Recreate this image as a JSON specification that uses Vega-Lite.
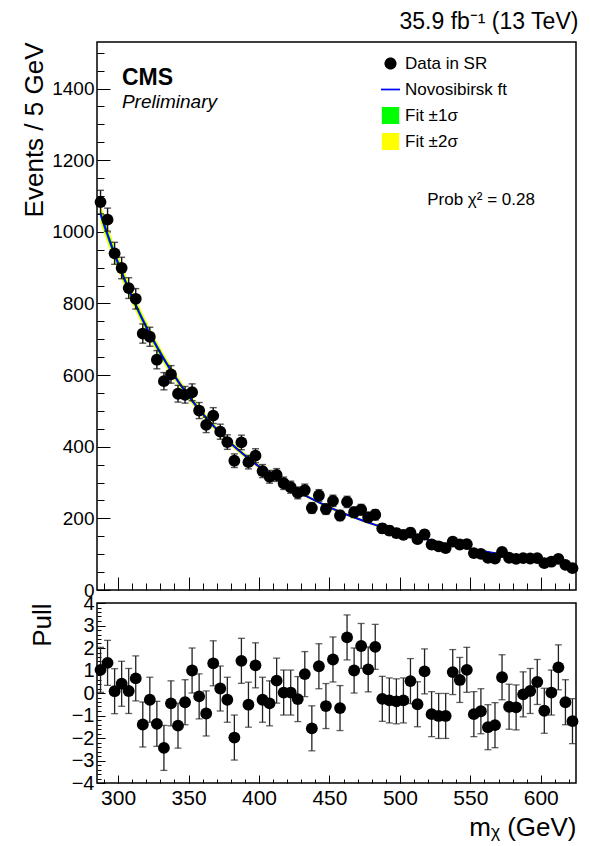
{
"$schema": "https://vega.github.io/schema/vega-lite/v6.json",
"padding": {"left": 20, "top": 10, "right": 14, "bottom": 0},
"bounds": "flush",
"spacing": 13,
"config": {
  "font": "Liberation Sans",
  "view": {"stroke": "#000", "strokeWidth": 1.5},
  "title": {"font": "Liberation Sans", "fontWeight": "normal", "color": "#000"},
  "axis": {"domain": false, "grid": false, "labelFont": "Liberation Sans", "titleFont": "Liberation Sans", "labelColor": "#000", "tickColor": "#000", "titleColor": "#000", "titleFontWeight": "normal", "labelFontSize": 20, "tickWidth": 1, "labelFlush": false, "labelOverlap": false},
  "legend": {"labelFont": "Liberation Sans", "labelFontSize": 17, "labelColor": "#000"}
},
"datasets": {
  "bins": [
    {"m":287.5,"n":1083,"e":32.9,"fit":1050,"s1":13,"s2":26,"p":1.03,"pe":1},
    {"m":292.5,"n":1034,"e":32.2,"fit":991.9,"s1":12.3,"s2":24.5,"p":1.34,"pe":1},
    {"m":297.5,"n":940,"e":30.7,"fit":937.7,"s1":11.5,"s2":23,"p":0.08,"pe":1},
    {"m":302.5,"n":899,"e":30.0,"fit":887.0,"s1":10.8,"s2":21.5,"p":0.41,"pe":1},
    {"m":307.5,"n":843,"e":29.0,"fit":839.7,"s1":10,"s2":20,"p":0.09,"pe":1},
    {"m":312.5,"n":813,"e":28.5,"fit":795.4,"s1":9.4,"s2":18.7,"p":0.65,"pe":1},
    {"m":317.5,"n":716,"e":26.8,"fit":754.0,"s1":8.7,"s2":17.4,"p":-1.40,"pe":1},
    {"m":322.5,"n":707,"e":26.6,"fit":715.3,"s1":8.1,"s2":16.2,"p":-0.30,"pe":1},
    {"m":327.5,"n":643,"e":25.4,"fit":679.0,"s1":7.6,"s2":15.1,"p":-1.37,"pe":1},
    {"m":332.5,"n":583,"e":24.1,"fit":645.0,"s1":7.1,"s2":14.1,"p":-2.44,"pe":1},
    {"m":337.5,"n":602,"e":24.5,"fit":613.1,"s1":6.6,"s2":13.2,"p":-0.46,"pe":1},
    {"m":342.5,"n":548,"e":23.4,"fit":583.2,"s1":6.2,"s2":12.3,"p":-1.45,"pe":1},
    {"m":347.5,"n":545,"e":23.3,"fit":555.1,"s1":5.8,"s2":11.5,"p":-0.41,"pe":1},
    {"m":352.5,"n":552,"e":23.5,"fit":528.8,"s1":5.4,"s2":10.8,"p":1.00,"pe":1},
    {"m":357.5,"n":501,"e":22.4,"fit":504.1,"s1":5.1,"s2":10.1,"p":-0.15,"pe":1},
    {"m":362.5,"n":461,"e":21.5,"fit":480.8,"s1":4.8,"s2":9.5,"p":-0.91,"pe":1},
    {"m":367.5,"n":487,"e":22.1,"fit":458.9,"s1":4.5,"s2":8.9,"p":1.32,"pe":1},
    {"m":372.5,"n":442,"e":21.0,"fit":438.3,"s1":4.2,"s2":8.4,"p":0.20,"pe":1},
    {"m":377.5,"n":413,"e":20.3,"fit":419.0,"s1":4.0,"s2":7.9,"p":-0.30,"pe":1},
    {"m":382.5,"n":361,"e":19.0,"fit":400.8,"s1":3.8,"s2":7.5,"p":-1.98,"pe":1},
    {"m":387.5,"n":412,"e":20.3,"fit":383.6,"s1":3.6,"s2":7.1,"p":1.43,"pe":1},
    {"m":392.5,"n":357,"e":18.9,"fit":367.4,"s1":3.4,"s2":6.7,"p":-0.52,"pe":1},
    {"m":397.5,"n":375,"e":19.4,"fit":352.1,"s1":3.2,"s2":6.4,"p":1.23,"pe":1},
    {"m":402.5,"n":332,"e":18.2,"fit":337.6,"s1":3.1,"s2":6.1,"p":-0.30,"pe":1},
    {"m":407.5,"n":316,"e":17.8,"fit":323.8,"s1":2.9,"s2":5.8,"p":-0.46,"pe":1},
    {"m":412.5,"n":321,"e":17.9,"fit":310.7,"s1":2.8,"s2":5.6,"p":0.55,"pe":1},
    {"m":417.5,"n":298,"e":17.3,"fit":298.3,"s1":2.7,"s2":5.4,"p":0.02,"pe":1},
    {"m":422.5,"n":287,"e":16.9,"fit":286.5,"s1":2.6,"s2":5.2,"p":0.02,"pe":1},
    {"m":427.5,"n":271,"e":16.5,"fit":275.2,"s1":2.5,"s2":5.0,"p":-0.27,"pe":1},
    {"m":432.5,"n":279,"e":16.7,"fit":264.5,"s1":2.4,"s2":4.8,"p":0.84,"pe":1},
    {"m":437.5,"n":229,"e":15.1,"fit":254.3,"s1":2.4,"s2":4.7,"p":-1.57,"pe":1},
    {"m":442.5,"n":264,"e":16.2,"fit":244.6,"s1":2.3,"s2":4.5,"p":1.19,"pe":1},
    {"m":447.5,"n":226,"e":15.0,"fit":235.4,"s1":2.2,"s2":4.4,"p":-0.58,"pe":1},
    {"m":452.5,"n":249,"e":15.8,"fit":226.6,"s1":2.2,"s2":4.3,"p":1.49,"pe":1},
    {"m":457.5,"n":208,"e":14.4,"fit":218.2,"s1":2.1,"s2":4.2,"p":-0.67,"pe":1},
    {"m":462.5,"n":246,"e":15.7,"fit":210.2,"s1":2.1,"s2":4.1,"p":2.47,"pe":1},
    {"m":467.5,"n":217,"e":14.7,"fit":202.6,"s1":2.0,"s2":4.0,"p":1.00,"pe":1},
    {"m":472.5,"n":224,"e":15.0,"fit":195.4,"s1":2.0,"s2":3.9,"p":2.09,"pe":1},
    {"m":477.5,"n":203,"e":14.2,"fit":188.5,"s1":1.9,"s2":3.8,"p":1.05,"pe":1},
    {"m":482.5,"n":210,"e":14.5,"fit":181.9,"s1":1.9,"s2":3.7,"p":2.05,"pe":1},
    {"m":487.5,"n":172,"e":13.1,"fit":175.6,"s1":1.8,"s2":3.6,"p":-0.26,"pe":1},
    {"m":492.5,"n":166,"e":12.9,"fit":169.6,"s1":1.8,"s2":3.6,"p":-0.33,"pe":1},
    {"m":497.5,"n":159,"e":12.6,"fit":163.8,"s1":1.8,"s2":3.5,"p":-0.37,"pe":1},
    {"m":502.5,"n":154,"e":12.4,"fit":158.3,"s1":1.8,"s2":3.5,"p":-0.33,"pe":1},
    {"m":507.5,"n":160,"e":12.6,"fit":153.0,"s1":1.7,"s2":3.4,"p":0.53,"pe":1},
    {"m":512.5,"n":142,"e":11.9,"fit":147.9,"s1":1.7,"s2":3.4,"p":-0.50,"pe":1},
    {"m":517.5,"n":155,"e":12.4,"fit":142.9,"s1":1.7,"s2":3.3,"p":0.96,"pe":1},
    {"m":522.5,"n":127,"e":11.3,"fit":138.1,"s1":1.7,"s2":3.3,"p":-0.94,"pe":1},
    {"m":527.5,"n":122,"e":11.0,"fit":133.5,"s1":1.7,"s2":3.3,"p":-1.02,"pe":1},
    {"m":532.5,"n":117,"e":10.8,"fit":129.1,"s1":1.6,"s2":3.2,"p":-1.02,"pe":1},
    {"m":537.5,"n":135,"e":11.6,"fit":124.8,"s1":1.6,"s2":3.2,"p":0.93,"pe":1},
    {"m":542.5,"n":127,"e":11.3,"fit":120.7,"s1":1.6,"s2":3.2,"p":0.58,"pe":1},
    {"m":547.5,"n":128,"e":11.3,"fit":116.8,"s1":1.6,"s2":3.1,"p":1.03,"pe":1},
    {"m":552.5,"n":103,"e":10.1,"fit":113.0,"s1":1.6,"s2":3.1,"p":-0.94,"pe":1},
    {"m":557.5,"n":101,"e":10.0,"fit":109.3,"s1":1.6,"s2":3.1,"p":-0.81,"pe":1},
    {"m":562.5,"n":90,"e":9.5,"fit":105.8,"s1":1.6,"s2":3.1,"p":-1.52,"pe":1},
    {"m":567.5,"n":88,"e":9.4,"fit":102.4,"s1":1.5,"s2":3.0,"p":-1.43,"pe":1},
    {"m":572.5,"n":106,"e":10.3,"fit":99.1,"s1":1.5,"s2":3.0,"p":0.70,"pe":1},
    {"m":577.5,"n":90,"e":9.5,"fit":95.9,"s1":1.5,"s2":3.0,"p":-0.61,"pe":1},
    {"m":582.5,"n":87,"e":9.3,"fit":92.9,"s1":1.5,"s2":3.0,"p":-0.64,"pe":1},
    {"m":587.5,"n":89,"e":9.4,"fit":90.0,"s1":1.5,"s2":3.0,"p":-0.06,"pe":1},
    {"m":592.5,"n":88,"e":9.4,"fit":87.2,"s1":1.5,"s2":3.0,"p":0.09,"pe":1},
    {"m":597.5,"n":89,"e":9.4,"fit":84.4,"s1":1.5,"s2":3.0,"p":0.49,"pe":1},
    {"m":602.5,"n":75,"e":8.7,"fit":81.7,"s1":1.5,"s2":3.0,"p":-0.79,"pe":1},
    {"m":607.5,"n":79,"e":8.9,"fit":79.2,"s1":1.5,"s2":3.0,"p":0.02,"pe":1},
    {"m":612.5,"n":87,"e":9.3,"fit":76.7,"s1":1.5,"s2":3.0,"p":1.14,"pe":1},
    {"m":617.5,"n":70,"e":8.4,"fit":74.3,"s1":1.5,"s2":3.0,"p":-0.41,"pe":1},
    {"m":622.5,"n":61,"e":7.8,"fit":71.9,"s1":1.5,"s2":3.0,"p":-1.25,"pe":1}
  ],
  "keys": [
    {"k":"Data in SR","m":null,"n":null},
    {"k":"Novosibirsk ft","m":null,"n":null},
    {"k":"Fit ±1σ","m":null,"n":null},
    {"k":"Fit ±2σ","m":null,"n":null}
  ]
},
"vconcat": [
  {
    "width": 479,
    "height": 548,
    "title": {"text": "35.9 fb⁻¹ (13 TeV)", "anchor": "end", "fontSize": 23, "fontWeight": "normal", "offset": 8},
    "layer": [
      {
        "data": {"name": "bins"},
        "mark": {"type": "errorband", "color": "#ffff00", "opacity": 1, "interpolate": "monotone"},
        "encoding": {
          "x": {"field": "m", "type": "quantitative", "scale": {"domain": [285, 625], "nice": false, "zero": false}, "axis": null},
          "y": {"field": "fit", "type": "quantitative", "scale": {"domain": [0, 1530], "nice": false}, "axis": null},
          "yError": {"field": "s2"}
        }
      },
      {
        "data": {"name": "bins"},
        "mark": {"type": "errorband", "color": "#00ff00", "opacity": 1, "interpolate": "monotone"},
        "encoding": {
          "x": {"field": "m", "type": "quantitative", "axis": null},
          "y": {"field": "fit", "type": "quantitative", "axis": null},
          "yError": {"field": "s1"}
        }
      },
      {
        "data": {"name": "bins"},
        "mark": {"type": "line", "color": "#0000ff", "strokeWidth": 2, "interpolate": "monotone"},
        "encoding": {
          "x": {"field": "m", "type": "quantitative", "axis": {"orient": "bottom", "values": [290,300,310,320,330,340,350,360,370,380,390,400,410,420,430,440,450,460,470,480,490,500,510,520,530,540,550,560,570,580,590,600,610,620], "labels": false, "tickSize": -7, "title": null}},
          "y": {"field": "fit", "type": "quantitative", "axis": {"orient": "left", "values": [0,50,100,150,200,250,300,350,400,450,500,550,600,650,700,750,800,850,900,950,1000,1050,1100,1150,1200,1250,1300,1350,1400,1450,1500], "labels": false, "tickSize": -7, "title": null}}
        }
      },
      {
        "data": {"name": "bins"},
        "mark": {"type": "errorbar", "color": "#111", "thickness": 1.4, "ticks": {"size": 7}},
        "encoding": {
          "x": {"field": "m", "type": "quantitative", "axis": null},
          "y": {"field": "n", "type": "quantitative", "axis": null},
          "yError": {"field": "e"}
        }
      },
      {
        "data": {"name": "bins"},
        "mark": {"type": "point", "filled": true, "size": 140, "color": "#000", "opacity": 1},
        "encoding": {
          "x": {"field": "m", "type": "quantitative", "axis": {"orient": "bottom", "values": [300,350,400,450,500,550,600], "labels": false, "tickSize": -13, "title": null}},
          "y": {"field": "n", "type": "quantitative", "axis": {"orient": "left", "values": [0,200,400,600,800,1000,1200,1400], "format": "d", "labelFontSize": 19, "tickSize": -13, "labelPadding": 16, "title": "Events / 5 GeV", "titleAnchor": "end", "titleFontSize": 26, "titlePadding": 4}}
        }
      },
      {
        "data": {"values": [{"m": 302.7, "n": 1410, "t": "CMS"}]},
        "mark": {"type": "text", "align": "left", "baseline": "alphabetic", "fontSize": 23, "fontWeight": "bold", "font": "Liberation Sans", "color": "#000"},
        "encoding": {"x": {"field": "m", "type": "quantitative", "axis": null}, "y": {"field": "n", "type": "quantitative", "axis": null}, "text": {"field": "t"}}
      },
      {
        "data": {"values": [{"m": 302.7, "n": 1346, "t": "Preliminary"}]},
        "mark": {"type": "text", "align": "left", "baseline": "alphabetic", "fontSize": 19, "fontStyle": "italic", "font": "Liberation Sans", "color": "#000"},
        "encoding": {"x": {"field": "m", "type": "quantitative", "axis": null}, "y": {"field": "n", "type": "quantitative", "axis": null}, "text": {"field": "t"}}
      },
      {
        "data": {"values": [{"m": 557.6, "n": 1075, "t": "Prob χ² = 0.28"}]},
        "mark": {"type": "text", "align": "center", "baseline": "alphabetic", "fontSize": 17, "font": "Liberation Sans", "color": "#000"},
        "encoding": {"x": {"field": "m", "type": "quantitative", "axis": null}, "y": {"field": "n", "type": "quantitative", "axis": null}, "text": {"field": "t"}}
      },
      {
        "data": {"name": "keys"},
        "mark": {"type": "point", "filled": true, "opacity": 1, "size": 300},
        "encoding": {
          "x": {"field": "m", "type": "quantitative", "axis": null},
          "y": {"field": "n", "type": "quantitative", "axis": null},
          "color": {"field": "k", "type": "nominal", "scale": {"domain": ["Data in SR", "Novosibirsk ft", "Fit ±1σ", "Fit ±2σ"], "range": ["#000000", "#0000ff", "#00ff00", "#ffff00"]}, "legend": {"orient": "none", "legendX": 284, "legendY": 13, "title": null, "rowPadding": 8, "clipHeight": 17, "labelOffset": 5, "symbolOpacity": 1, "symbolSize": 300}},
          "shape": {"field": "k", "type": "nominal", "scale": {"domain": ["Data in SR", "Novosibirsk ft", "Fit ±1σ", "Fit ±2σ"], "range": ["M0,-0.7A0.7,0.7 0 1,1 0,0.7A0.7,0.7 0 1,1 0,-0.7Z", "M-1.1,-0.1H1.1V0.1H-1.1Z", "square", "square"]}, "legend": {"orient": "none", "legendX": 284, "legendY": 13, "title": null, "rowPadding": 8, "clipHeight": 17, "labelOffset": 5, "symbolOpacity": 1, "symbolSize": 300}}
        }
      }
    ],
    "resolve": {"axis": {"x": "independent", "y": "independent"}}
  },
  {
    "width": 479,
    "height": 180,
    "layer": [
      {
        "mark": {"type": "rule", "color": "#555", "strokeWidth": 1.5},
        "encoding": {
          "y": {"datum": 0, "type": "quantitative", "scale": {"domain": [-4, 4], "nice": false}, "axis": null}
        }
      },
      {
        "data": {"name": "bins"},
        "mark": {"type": "errorbar", "color": "#222", "thickness": 1.3, "ticks": {"size": 7}},
        "encoding": {
          "x": {"field": "m", "type": "quantitative", "scale": {"domain": [285, 625], "nice": false, "zero": false}, "axis": {"orient": "bottom", "values": [290,300,310,320,330,340,350,360,370,380,390,400,410,420,430,440,450,460,470,480,490,500,510,520,530,540,550,560,570,580,590,600,610,620], "labels": false, "tickSize": -4, "title": null}},
          "y": {"field": "p", "type": "quantitative", "scale": {"domain": [-4, 4], "nice": false}, "axis": {"orient": "left", "values": [-4,-3.8,-3.6,-3.4,-3.2,-3,-2.8,-2.6,-2.4,-2.2,-2,-1.8,-1.6,-1.4,-1.2,-1,-0.8,-0.6,-0.4,-0.2,0,0.2,0.4,0.6,0.8,1,1.2,1.4,1.6,1.8,2,2.2,2.4,2.6,2.8,3,3.2,3.4,3.6,3.8,4], "labels": false, "tickSize": -4, "title": null}},
          "yError": {"field": "pe"}
        }
      },
      {
        "data": {"name": "bins"},
        "mark": {"type": "point", "filled": true, "size": 140, "color": "#000", "opacity": 1},
        "encoding": {
          "x": {"field": "m", "type": "quantitative", "axis": {"orient": "bottom", "values": [300,350,400,450,500,550,600], "labelFontSize": 21, "tickSize": -8, "labelPadding": 12, "title": "mᵪ (GeV)", "titleAnchor": "end", "titleFontSize": 26, "titlePadding": 6}},
          "y": {"field": "p", "type": "quantitative", "axis": {"orient": "left", "values": [-4,-3,-2,-1,0,1,2,3,4], "tickSize": -8, "labelPadding": 11, "title": "Pull", "titleAnchor": "end", "titleFontSize": 26, "titlePadding": 16}}
        }
      }
    ],
    "resolve": {"axis": {"x": "independent", "y": "independent"}}
  }
]
}
